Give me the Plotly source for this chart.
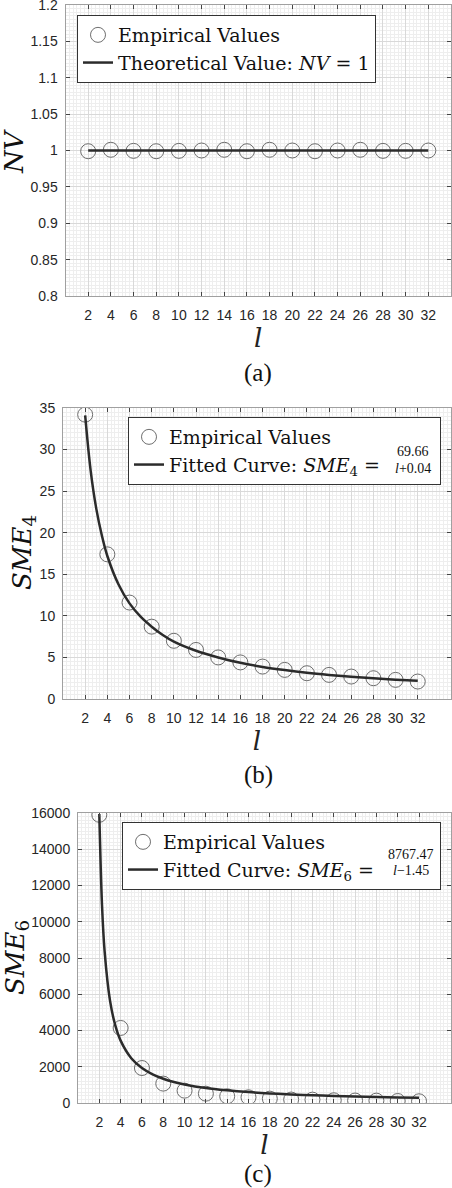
import plotly.graph_objects as go

# window size
W, H = 452, 1188

# x values (shared)
l_vals = [2, 4, 6, 8, 10, 12, 14, 16, 18, 20, 22, 24, 26, 28, 30, 32]
x_ticks = [2, 4, 6, 8, 10, 12, 14, 16, 18, 20, 22, 24, 26, 28, 30, 32]

# (a) normalized variance
nv_emp = [0.999, 1.001, 0.9995, 0.999, 0.9995, 1.0, 1.001, 0.999,
          1.001, 1.0, 0.999, 1.0, 1.001, 0.9995, 0.9995, 1.0]
nv_theory_x = [2, 32]
nv_theory_y = [1.0, 1.0]

# (b) SME4 empirical + fitted curve
sme4_emp = [34.2, 17.4, 11.6, 8.7, 7.0, 5.9, 5.0, 4.4,
            3.9, 3.5, 3.1, 2.9, 2.7, 2.5, 2.3, 2.1]
fit4_x = [2, 2.5, 3, 3.5, 4, 5, 6, 7, 8, 9, 10, 12, 14, 16, 18, 20, 22, 24, 26, 28, 30, 32]
fit4_y = [34.1, 27.4, 22.9, 19.7, 17.2, 13.8, 11.5, 9.9, 8.7, 7.7, 6.9, 5.8,
          5.0, 4.35, 3.86, 3.48, 3.16, 2.9, 2.68, 2.49, 2.32, 2.18]

# (c) SME6 empirical + fitted curve
sme6_emp = [15900, 4140, 1930, 1070, 680, 515, 370, 315,
            240, 190, 185, 150, 135, 130, 110, 95]
fit6_x = [2, 2.25, 2.5, 3, 3.5, 4, 5, 6, 7, 8, 9, 10, 12, 14, 16, 18, 20, 22, 24, 26, 28, 30, 32]
fit6_y = [15940, 10960, 8350, 5660, 4280, 3440, 2470, 1930, 1580, 1340, 1160, 1025,
          830, 700, 603, 530, 473, 427, 389, 357, 330, 307, 286]

SERIF = "DejaVu Serif"
SERIF2 = "Liberation Serif"
SANS = "Liberation Sans"
LINE_C = "#2b2b2b"
MARK_C = "#6e6e6e"


def px_x(p):
    return p / W


def px_y(p):
    return 1 - p / H


fig = go.Figure()

marker = dict(symbol="circle-open", size=15, color=MARK_C, line=dict(width=1, color=MARK_C))

# (a)
fig.add_trace(go.Scatter(x=l_vals, y=nv_emp, mode="markers", marker=marker,
                         name="Empirical Values", xaxis="x", yaxis="y", legend="legend"))
fig.add_trace(go.Scatter(x=nv_theory_x, y=nv_theory_y, mode="lines",
                         line=dict(color=LINE_C, width=2.5),
                         name="Theoretical Value: <i>NV</i> = 1",
                         xaxis="x", yaxis="y", legend="legend"))
# (b)
fig.add_trace(go.Scatter(x=l_vals, y=sme4_emp, mode="markers", marker=marker,
                         name="Empirical Values", xaxis="x2", yaxis="y2", legend="legend2"))
fig.add_trace(go.Scatter(x=fit4_x, y=fit4_y, mode="lines", line_shape="spline",
                         line=dict(color=LINE_C, width=2.5),
                         name="Fitted Curve: <i>SME</i><sub>4</sub> =" + "\u00a0" * 9,
                         xaxis="x2", yaxis="y2", legend="legend2"))
# (c)
fig.add_trace(go.Scatter(x=l_vals, y=sme6_emp, mode="markers", marker=marker,
                         name="Empirical Values", xaxis="x3", yaxis="y3", legend="legend3"))
fig.add_trace(go.Scatter(x=fit6_x, y=fit6_y, mode="lines", line_shape="spline",
                         line=dict(color=LINE_C, width=2.5),
                         name="Fitted Curve: <i>SME</i><sub>6</sub> =" + "\u00a0" * 10,
                         xaxis="x3", yaxis="y3", legend="legend3"))

tickfont = dict(family=SANS, size=14, color="#262626")


def xaxis(dom, rng, anchor):
    return dict(domain=dom, range=rng, anchor=anchor, tickmode="array", tickvals=x_ticks,
                ticks="inside", ticklen=4, tickcolor="#444", showline=True,
                linecolor="#a0a0a0", mirror="ticks", showgrid=True, gridcolor="#d9d9d9",
                gridwidth=1, zeroline=False, tickfont=tickfont, ticklabelstandoff=6,
                automargin=False,
                minor=dict(dtick=1 / 3, tick0=0, showgrid=True, gridcolor="#eeeeee",
                           gridwidth=1, ticks=""),
                title=dict(text="<i>l</i>", font=dict(family=SERIF, size=26, color="#222"),
                           standoff=2))


def yaxis(dom, rng, dtick, minor, anchor):
    return dict(domain=dom, range=rng, anchor=anchor, dtick=dtick, tick0=0,
                ticks="inside", ticklen=4, tickcolor="#444", showline=True,
                linecolor="#a0a0a0", mirror="ticks", showgrid=True, gridcolor="#d9d9d9",
                gridwidth=1, zeroline=False, tickfont=tickfont, ticklabelstandoff=4,
                ticklabeloverflow="allow",
                automargin=False, tickformat="d" if dtick >= 1 else "",
                minor=dict(dtick=minor, showgrid=True, gridcolor="#eeeeee",
                           gridwidth=1, ticks=""))


legfont = dict(family=SERIF, size=19, color="#111")
legbase = dict(bgcolor="white", bordercolor="#333", borderwidth=1, font=legfont,
               tracegroupgap=0, itemwidth=30, yanchor="top")

fig.update_layout(
    width=W, height=H,
    margin=dict(l=0, r=0, t=0, b=0, autoexpand=False),
    paper_bgcolor="white", plot_bgcolor="white",
    xaxis=xaxis([px_x(65.5), px_x(451)], [0, 34], "y"),
    yaxis=yaxis([px_y(296), px_y(5)], [0.8, 1.2], 0.05, 0.005, "x"),
    xaxis2=xaxis([px_x(63), px_x(451)], [0, 35], "y2"),
    yaxis2=yaxis([px_y(699), px_y(408)], [0, 35], 5, 0.5, "x2"),
    xaxis3=xaxis([px_x(78), px_x(451)], [0, 35], "y3"),
    yaxis3=yaxis([px_y(1103), px_y(813)], [0, 16000], 2000, 200, "x3"),
    legend=dict(legbase, x=px_x(77), y=px_y(15), xanchor="left"),
    legend2=dict(legbase, x=px_x(441), y=px_y(417), xanchor="right"),
    legend3=dict(legbase, x=px_x(441), y=px_y(822), xanchor="right"),
    showlegend=True,
)


def label(text, x, y, font, size, angle=0):
    fig.add_annotation(text=text, x=px_x(x), y=px_y(y), xref="paper", yref="paper",
                       xanchor="center", yanchor="middle", showarrow=False, textangle=angle,
                       font=dict(family=font, size=size, color="#111"))


# y-axis titles
label("<i>NV</i>", 14, 152, SERIF, 26, -90)
label("<i>SME</i><sub>4</sub>", 23, 553, SERIF, 26, -90)
label("<i>SME</i><sub>6</sub>", 16, 958, SERIF, 26, -90)

# fraction parts of the fitted-curve formulas
frac = [("69.66", "<i>l</i>+0.04", 413, 460), ("8767.47", "<i>l</i>\u22121.45", 411, 862)]
for num, den, cx, cy in frac:
    label(num, cx, cy - 8, SERIF2, 14)
    label(den, cx, cy + 8, SERIF2, 14)
    fig.add_shape(type="line", xref="paper", yref="paper",
                  x0=px_x(cx - 22), x1=px_x(cx + 22), y0=px_y(cy), y1=px_y(cy),
                  line=dict(color="#111", width=1))

# panel captions
for lab, yy in [("(a)", 373), ("(b)", 775), ("(c)", 1174)]:
    label(lab, 258, yy, SERIF2, 25)

# the page body has a default 8px margin; drop it so the figure fills the window
fig.write_html("out.html", config={"displayModeBar": False},
               post_script="document.body.style.margin='0px';")
